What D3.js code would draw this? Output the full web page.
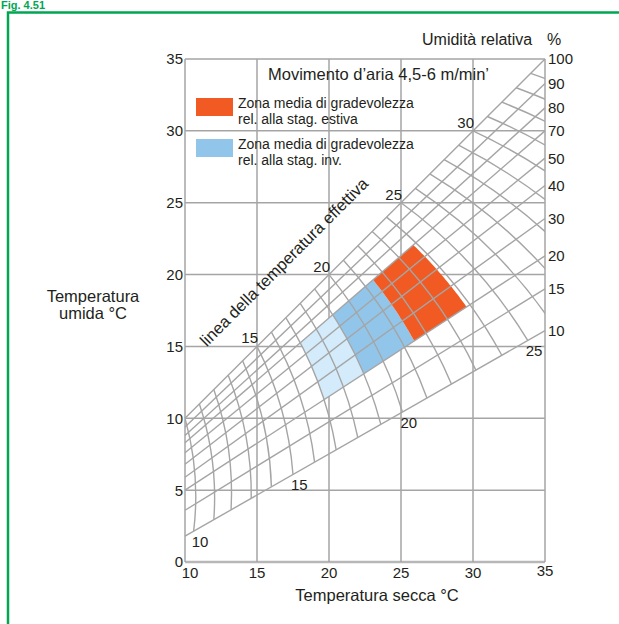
<!DOCTYPE html>
<html>
<head>
<meta charset="utf-8">
<script src="https://cdn.jsdelivr.net/npm/d3@7/dist/d3.min.js"></script>
<style>
  body { margin: 0; background: #fff; }
  svg { display: block; font-family: "Liberation Sans", Arial, Helvetica, sans-serif; }
</style>
</head>
<body>
<svg id="chart" width="619" height="624"></svg>
<script>
// axis ticks
const dryTicks = [10, 15, 20, 25, 30, 35];
const wetTicks = [0, 5, 10, 15, 20, 25, 30, 35];

// relative humidity lines: wet temperature at dry 10 and at dry 35
const rhLabels = ["100", "90", "80", "70", "50", "40", "30", "20", "15", "10"];
const rhAt10 = [10, 9.4, 8.8, 8.3, 7.6, 6.8, 5.9, 5.0, 3.6, 1.8];
const rhAt35 = [35, 33.3, 31.6, 30.0, 28.1, 26.2, 23.9, 21.3, 19.0, 16.1];

// effective temperature lines: start on the saturation line, end on the lowest humidity line at dry = etEnd
const etValues = [10, 11, 12, 13, 14, 15, 16, 17, 18, 19, 20, 21, 22, 23, 24, 25, 26, 27, 28, 29, 30, 31, 32, 33, 34, 35];
const etEnd = [10.6, 12.0, 13.2, 14.6, 16.0, 17.5, 19.0, 20.5, 22.0, 23.6, 25.1, 26.8, 28.5, 30.2, 32.0, 33.8, 35.6, 37.4, 39.2, 41.0, 42.8, 44.6, 46.4, 48.2, 50.0, 51.8];
const etTopLabels = [15, 20, 25, 30];
const etBottomLabels = [10, 15, 20, 25];

// comfort zones (effective temperature range, humidity line range)
const summerEt = [21.45, 23.85];
const winterEt = [19.0, 21.45];
const winterLightEt = [17.0, 19.0];
const zoneRh = [3, 7];

const svg = d3.select("#chart");
const x = d3.scaleLinear().domain([10, 35]).range([185, 545]);
const y = d3.scaleLinear().domain([0, 35]).range([562, 59]);

const gridColor = "#a5a5a5";
const textColor = "#231f20";

// frame
svg.append("rect").attr("x", 8).attr("y", 12.5).attr("width", 700).attr("height", 700)
  .attr("fill", "none").attr("stroke", "#00a651").attr("stroke-width", 2.5);
svg.append("text").attr("x", 1).attr("y", 9).attr("fill", "#00a651")
  .style("font-size", "11px").style("font-weight", "bold").text("Fig. 4.51");

// grid
svg.append("g").selectAll("line").data(dryTicks).enter().append("line")
  .attr("x1", d => x(d)).attr("x2", d => x(d)).attr("y1", y(0)).attr("y2", y(35))
  .attr("stroke", gridColor).attr("stroke-width", 1.5);
svg.append("g").selectAll("line").data(wetTicks).enter().append("line")
  .attr("x1", x(10)).attr("x2", x(35)).attr("y1", d => y(d)).attr("y2", d => y(d))
  .attr("stroke", gridColor).attr("stroke-width", d => d === 0 ? 2.5 : 1.5)
  .attr("stroke-opacity", d => d === 0 ? 0.8 : 1);

// geometry helpers
const rhWet = (j, dry) => rhAt10[j] + (rhAt35[j] - rhAt10[j]) * (dry - 10) / 25;
const lastRh = rhAt10.length - 1;
const etEndOf = d3.scaleLinear().domain(etValues).range(etEnd);
const bulge = 0.1;

function arcPts(e) {
  const xe = etEndOf(e);
  const S = [x(e), y(e)];
  const E = [x(xe), y(rhWet(lastRh, xe))];
  const dx = E[0] - S[0], dy = E[1] - S[1];
  const C = [(S[0] + E[0]) / 2 + bulge * dy, (S[1] + E[1]) / 2 - bulge * dx];
  return [S, C, E];
}
function bez(p, t) {
  const a = (1 - t) * (1 - t), b = 2 * t * (1 - t), c = t * t;
  return [a * p[0][0] + b * p[1][0] + c * p[2][0], a * p[0][1] + b * p[1][1] + c * p[2][1]];
}
function side(j, pt) {
  const P0 = [x(10), y(rhAt10[j])], P1 = [x(35), y(rhAt35[j])];
  return (P1[0] - P0[0]) * (pt[1] - P0[1]) - (P1[1] - P0[1]) * (pt[0] - P0[0]);
}
function tAt(e, j) {
  if (j <= 0) return 0;
  if (j >= lastRh) return 1;
  const p = arcPts(e);
  let lo = 0, hi = 1;
  const s0 = side(j, bez(p, lo));
  for (let k = 0; k < 40; k++) {
    const m = (lo + hi) / 2;
    if (Math.sign(side(j, bez(p, m))) === Math.sign(s0)) lo = m; else hi = m;
  }
  return (lo + hi) / 2;
}
function arcSample(e, t0, t1) {
  const p = arcPts(e);
  return d3.range(0, 41).map(i => bez(p, t0 + (t1 - t0) * i / 40));
}
function zonePath(et, rh) {
  const left = arcSample(et[0], tAt(et[0], rh[0]), tAt(et[0], rh[1]));
  const right = arcSample(et[1], tAt(et[1], rh[1]), tAt(et[1], rh[0]));
  return "M" + left.concat(right).map(p => p.join(",")).join("L") + "Z";
}

// zones
const zones = [
  { et: winterLightEt, fill: "#d3ebfa" },
  { et: winterEt, fill: "#92c5ea" },
  { et: summerEt, fill: "#f15a22" }
];
svg.append("g").selectAll("path").data(zones).enter().append("path")
  .attr("d", d => zonePath(d.et, zoneRh)).attr("fill", d => d.fill);

// mesh
const clip = [[10, 10], [35, 35], [35, rhAt35[lastRh]], [10, rhAt10[lastRh]]];
svg.append("clipPath").attr("id", "meshClip").append("path")
  .attr("d", "M" + clip.map(p => [x(p[0]), y(p[1])].join(",")).join("L") + "Z");

const mesh = svg.append("g").attr("fill", "none").attr("stroke", gridColor).attr("stroke-width", 1.4);
mesh.selectAll("line").data(rhAt10).enter().append("line")
  .attr("x1", x(10)).attr("y1", (d, j) => y(rhAt10[j]))
  .attr("x2", x(35)).attr("y2", (d, j) => y(rhAt35[j]));
mesh.append("g").attr("clip-path", "url(#meshClip)")
  .selectAll("path").data(etValues).enter().append("path")
  .attr("d", e => { const p = arcPts(e); return `M${p[0]}Q${p[1]} ${p[2]}`; });

// tick labels
const tickFont = "15px";
svg.append("g").selectAll("text").data(wetTicks).enter().append("text")
  .attr("x", x(10) - 2).attr("y", d => y(d)).attr("dy", "0.36em")
  .attr("text-anchor", "end").style("font-size", tickFont).attr("fill", textColor)
  .text(d => d);
svg.append("g").selectAll("text").data(dryTicks).enter().append("text")
  .attr("x", (d, i) => x(d) + (i === 0 ? 5 : 0)).attr("y", (d, i) => i === dryTicks.length - 1 ? 576 : 578)
  .attr("text-anchor", "middle").style("font-size", tickFont).attr("fill", textColor)
  .text(d => d);
svg.append("g").selectAll("text").data(rhLabels).enter().append("text")
  .attr("x", x(35) + 3).attr("y", (d, j) => y(rhAt35[j])).attr("dy", "0.36em")
  .style("font-size", tickFont).attr("fill", textColor)
  .text(d => d);

// effective temperature labels
svg.append("g").selectAll("text").data(etTopLabels).enter().append("text")
  .attr("x", d => x(d) + 1).attr("y", d => y(d) - 3)
  .attr("text-anchor", "end").style("font-size", tickFont).attr("fill", textColor)
  .text(d => d);
svg.append("g").selectAll("text").data(etBottomLabels).enter().append("text")
  .attr("x", d => x(etEndOf(d)) - 2).attr("y", d => y(rhWet(lastRh, etEndOf(d))) + 16)
  .style("font-size", tickFont).attr("fill", textColor)
  .text(d => d);

svg.append("text").attr("transform", "translate(288,266) rotate(-45)")
  .attr("text-anchor", "middle").style("font-size", "16.5px").attr("fill", textColor)
  .text("linea della temperatura effettiva");

// titles
const titleFont = "16.5px";
svg.append("text").attr("x", 377).attr("y", 601).attr("text-anchor", "middle")
  .style("font-size", titleFont).attr("fill", textColor).text("Temperatura secca °C");
const yTitle = svg.append("text").attr("text-anchor", "middle")
  .style("font-size", titleFont).attr("fill", textColor);
yTitle.append("tspan").attr("x", 93).attr("y", 302).text("Temperatura");
yTitle.append("tspan").attr("x", 93).attr("y", 319).text("umida °C");
svg.append("text").attr("x", 422).attr("y", 45).style("font-size", "16px").attr("fill", textColor)
  .text("Umidità relativa");
svg.append("text").attr("x", 547).attr("y", 45).style("font-size", "16px").attr("fill", textColor)
  .text("%");
svg.append("text").attr("x", 268).attr("y", 80).style("font-size", titleFont).attr("fill", textColor)
  .text("Movimento d’aria 4,5-6 m/min’");

// legend
const legend = [
  { fill: "#f15a22", lines: ["Zona media di gradevolezza", "rel. alla stag. estiva"], top: 98 },
  { fill: "#92c5ea", lines: ["Zona media di gradevolezza", "rel. alla stag. inv."], top: 139 }
];
const lg = svg.append("g").selectAll("g").data(legend).enter().append("g");
lg.append("rect").attr("x", 196).attr("y", d => d.top).attr("width", 37).attr("height", 18)
  .attr("fill", d => d.fill);
lg.each(function (d) {
  const t = d3.select(this).append("text").style("font-size", "14px").attr("fill", textColor);
  d.lines.forEach((s, i) => t.append("tspan").attr("x", 238).attr("y", d.top + 10 + i * 16).text(s));
});
</script>
</body>
</html>
